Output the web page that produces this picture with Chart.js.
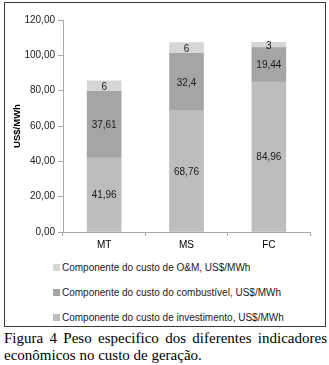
<!DOCTYPE html>
<html>
<head>
<meta charset="utf-8">
<script src="https://cdn.jsdelivr.net/npm/chart.js@4/dist/chart.umd.min.js"></script>
<style>
  body { margin: 0; background: #fff; font-family: "Liberation Sans", Arial, sans-serif; }
  #box { position: absolute; left: 4px; top: 2px; width: 320px; height: 323px; border: 1px solid #3a3a3a; }
  #wrap { position: absolute; left: 0; top: 0; width: 320px; height: 252px; }
  #legend { position: absolute; left: 48px; top: 252px; font-size: 10px; color: #1a1a1a; }
  .leg-row { height: 25px; display: flex; align-items: center; }
  .leg-dot { width: 7px; height: 7px; margin-right: 2px; }
  #caption { position: absolute; left: 4px; top: 330px; width: 323px; font-family: "Liberation Serif", "Times New Roman", serif;
             font-size: 15px; line-height: 17px; text-align: justify; color: #000; }
</style>
</head>
<body>
<div id="box">
  <div id="wrap"><canvas id="chart"></canvas></div>
  <div id="legend"></div>
</div>
<div id="caption">Figura 4 Peso especifico dos diferentes indicadores econômicos no custo de geração.</div>
<script>
const categories = ['MT', 'MS', 'FC'];
const investimento = [41.96, 68.76, 84.96];
const combustivel  = [37.61, 32.4, 19.44];
const oem          = [6, 6, 3];
const yTicks = [0, 20, 40, 60, 80, 100, 120];

const seriesNames = [
    'Componente do custo de investimento, US$/MWh',
    'Componente do custo do combustível, US$/MWh',
    'Componente do custo de O&M, US$/MWh'
];
const seriesColors = ['#bdbdbd', '#a5a5a5', '#d6d6d6'];

function fmtNum(v) { return String(v).replace('.', ','); }

// value labels in the middle of each segment
const segLabels = {
    id: 'segLabels',
    afterDatasetsDraw(chart) {
        const ctx = chart.ctx;
        ctx.save();
        ctx.font = '10px "Liberation Sans", Arial, sans-serif';
        ctx.fillStyle = '#1a1a1a';
        ctx.textAlign = 'center';
        ctx.textBaseline = 'middle';
        chart.data.datasets.forEach((ds, di) => {
            chart.getDatasetMeta(di).data.forEach((bar, i) => {
                const yMid = (bar.y + bar.base) / 2;
                ctx.fillText(fmtNum(ds.data[i]), bar.x, yMid + 1);
            });
        });
        ctx.restore();
    }
};

const datasets = [investimento, combustivel, oem].map((d, i) => ({
    label: seriesNames[i],
    data: d,
    backgroundColor: seriesColors[i],
    borderWidth: 0,
    barThickness: 34
}));

new Chart(document.getElementById('chart'), {
    type: 'bar',
    data: { labels: categories, datasets },
    options: {
        responsive: true,
        maintainAspectRatio: false,
        animation: false,
        layout: { padding: { top: 17, right: 15, bottom: 0, left: 7 } },
        plugins: { legend: { display: false }, tooltip: { enabled: false } },
        scales: {
            x: {
                stacked: true,
                grid: { drawOnChartArea: false, drawTicks: true, tickLength: 4, color: '#a8a8a8', offset: true },
                border: { color: '#a8a8a8' },
                ticks: { color: '#000', font: { size: 10, family: '"Liberation Sans", Arial, sans-serif' }, padding: 3 },
                afterFit: s => { s.height = 23; }
            },
            y: {
                stacked: true,
                min: 0, max: 120,
                afterBuildTicks: s => { s.ticks = yTicks.map(v => ({ value: v })); },
                grid: { drawOnChartArea: false, drawTicks: true, tickLength: 5, color: '#a8a8a8' },
                border: { color: '#a8a8a8' },
                ticks: {
                    color: '#1a1a1a', padding: 3,
                    font: { size: 10, family: '"Liberation Sans", Arial, sans-serif' },
                    callback: v => v.toFixed(2).replace('.', ',')
                },
                title: {
                    display: true, text: 'US$/MWh', color: '#000', padding: { top: 0, bottom: 2 },
                    font: { size: 9.5, weight: 'bold', family: '"Liberation Sans", Arial, sans-serif' }
                },
                afterFit: s => { s.width = 51; }
            }
        }
    },
    plugins: [segLabels]
});

// legend, reversed order like the original
const legendEl = document.getElementById('legend');
legendEl.innerHTML = [2, 1, 0].map(i => `
    <div class="leg-row"><div class="leg-dot" style="background:${seriesColors[i]}"></div><span>${seriesNames[i]}</span></div>
`).join('');
</script>
</body>
</html>
